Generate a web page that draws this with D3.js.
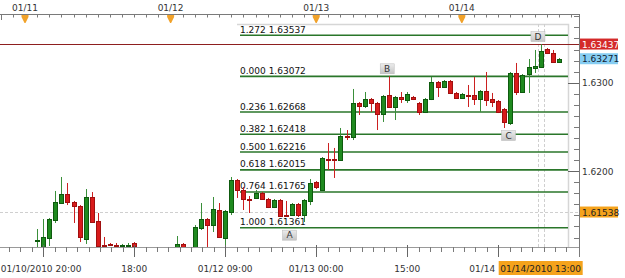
<!DOCTYPE html>
<html><head><meta charset="utf-8">
<script src="https://cdn.jsdelivr.net/npm/d3@7"></script>
<style>
html,body{margin:0;padding:0;background:#fff;}
svg{display:block;font-family:"DejaVu Sans",Verdana,sans-serif;}
</style></head><body>
<svg id="c" width="625" height="278"></svg>
<script>
// ---------- DATA ----------
// hours after 2010-01-11 00:00 (hourly candles)
const candleHours = [2,3,4,5,6,7,8,9,10,11,12,13,14,15,16,17,18,25,26,28,29,30,31,32,33,34,35,36,37,38,39,40,41,42,43,44,45,46,47,48,49,50,51,52,53,54,55,56,57,58,59,60,61,62,63,64,65,66,67,68,69,70,71,72,73,74,75,76,77,78,79,80,81,82,83,84,85,86,87,88];
const opens  = [1.61210,1.61109,1.61244,1.61448,1.61640,1.61742,1.61651,1.61606,1.61233,1.61708,1.61437,1.61165,1.61177,1.61165,1.61154,1.61160,1.61188,1.61143,1.61177,1.61120,1.61357,1.61459,1.61391,1.61561,1.61244,1.61538,1.61900,1.61787,1.61690,1.61697,1.61753,1.61685,1.61595,1.61674,1.61504,1.61504,1.61629,1.61504,1.61663,1.61877,1.61787,1.62143,1.62143,1.62126,1.62392,1.62386,1.62771,1.62737,1.62816,1.62771,1.62646,1.62861,1.62725,1.62838,1.62804,1.62838,1.62771,1.62669,1.62816,1.63008,1.62951,1.63019,1.62884,1.62827,1.62866,1.62861,1.62816,1.62906,1.62816,1.62793,1.62703,1.62544,1.63110,1.62895,1.63098,1.63166,1.63177,1.63381,1.63336,1.63234];
const highs  = [1.61346,1.61459,1.61470,1.61776,1.61934,1.61866,1.61663,1.61617,1.61798,1.61764,1.61527,1.61256,1.61188,1.61188,1.61177,1.61188,1.61199,1.61267,1.61188,1.61391,1.61640,1.61470,1.61708,1.61640,1.61561,1.61934,1.61911,1.61821,1.61719,1.61787,1.61764,1.61697,1.61685,1.61685,1.61663,1.61640,1.61640,1.61685,1.61911,1.61888,1.62160,1.62318,1.62262,1.62488,1.62465,1.62929,1.62782,1.62895,1.62827,1.62782,1.62861,1.63072,1.62850,1.62895,1.62895,1.62850,1.62782,1.62827,1.63064,1.63019,1.63030,1.63030,1.62895,1.62884,1.62974,1.63064,1.62917,1.63121,1.62884,1.62804,1.62714,1.63121,1.63223,1.63098,1.63268,1.63370,1.63437,1.63392,1.63370,1.63279];
const lows   = [1.61109,1.61100,1.61154,1.61414,1.61629,1.61617,1.61414,1.61199,1.61177,1.61414,1.61143,1.61143,1.61154,1.61154,1.61143,1.61154,1.61143,1.61130,1.61130,1.61110,1.61335,1.61130,1.61312,1.61244,1.61135,1.61504,1.61697,1.61561,1.61527,1.61685,1.61674,1.61583,1.61583,1.61482,1.61482,1.61493,1.61482,1.61425,1.61617,1.61798,1.61776,1.62013,1.61923,1.62115,1.62352,1.62352,1.62635,1.62714,1.62669,1.62465,1.62556,1.62714,1.62578,1.62771,1.62771,1.62804,1.62635,1.62657,1.62804,1.62838,1.62940,1.62872,1.62816,1.62816,1.62725,1.62748,1.62669,1.62737,1.62725,1.62657,1.62488,1.62522,1.62861,1.62884,1.62884,1.63110,1.63166,1.63324,1.63223,1.63223];
const closes = [1.61222,1.61256,1.61459,1.61651,1.61742,1.61651,1.61606,1.61256,1.61708,1.61425,1.61154,1.61154,1.61165,1.61160,1.61160,1.61170,1.61154,1.61177,1.61143,1.61369,1.61459,1.61391,1.61572,1.61256,1.61550,1.61900,1.61787,1.61685,1.61682,1.61753,1.61685,1.61595,1.61674,1.61493,1.61498,1.61629,1.61504,1.61674,1.61866,1.61821,1.62149,1.62135,1.62135,1.62397,1.62383,1.62771,1.62737,1.62816,1.62771,1.62646,1.62850,1.62725,1.62838,1.62816,1.62872,1.62816,1.62669,1.62816,1.63008,1.62951,1.63019,1.62884,1.62827,1.62872,1.62858,1.62816,1.62906,1.62804,1.62782,1.62669,1.62556,1.63110,1.62895,1.63087,1.63177,1.63189,1.63358,1.63336,1.63234,1.63271];

const fibRatios = ["1.272","0.000","0.236","0.382","0.500","0.618","0.764","1.000"];
const fibPrices = [1.63537,1.63072,1.62668,1.62418,1.62216,1.62015,1.61765,1.61361];

const pointLabels = ["A","B","C","D"];
const pointHours  = [43.6,59.7,79.7,84.55];
const pointPrices = [1.61361,1.63072,1.62488,1.63437];
const pointSide   = [1,-1,1,-1];

const dayLabels = ["01/11","01/12","01/13","01/14"];
const dayHours  = [0,24,48,72];

const bottomLabels = ["01/10/2010 20:00","18:00","01/12 09:00","01/13 00:00","15:00","01/14"];
const bottomLabelHours = [-4,18,33,48,63,78];
const bottomMajorHours = [3,18,33,48,63,78];

const priceTickValues = [1.6300,1.6200];
const priceTickLabels = ["1.6300","1.6200"];

const askPrice = 1.63437;
const lastPrice = 1.63271;
const crossPrice = 1.61538;
const crossHour = 85;
const crossTimeLabel = "01/14/2010 13:00";

// ---------- SCALES ----------
const base = Date.UTC(2010,0,11,0);
const hd = h => new Date(base + h*3600e3);
const PXH = 6.067;
const x = d3.scaleUtc().domain([hd(-4), hd(91)]).range([25-4*PXH, 25+91*PXH]);
const y = d3.scaleLinear().domain([1.61,1.64]).range([82.7+0.02*8846, 82.7-0.01*8846]);

const svg = d3.select('#c');
const AX = 579, TOP = 14, BOT = 247, PR = 568, PT = 24, PL = 237;

svg.append('defs').append('clipPath').attr('id','plot')
  .append('rect').attr('x',0).attr('y',TOP).attr('width',AX).attr('height',BOT-TOP);
const grad = svg.select('defs').append('linearGradient').attr('id','lbl').attr('x1',0).attr('y1',0).attr('x2',0).attr('y2',1);
grad.append('stop').attr('offset','0%').attr('stop-color','#ececec');
grad.append('stop').attr('offset','100%').attr('stop-color','#c4c4c4');

// panel border
svg.append('path').attr('d',`M${PL},${PT+0.5}H${PR+0.5}V${BOT}`)
  .attr('fill','none').attr('stroke','#d6d6d6').attr('stroke-width',1.5);

// crosshair
svg.append('line').attr('x1',0).attr('x2',AX).attr('y1',Math.round(y(crossPrice))+0.5).attr('y2',Math.round(y(crossPrice))+0.5)
  .attr('stroke','#cfcfcf').attr('stroke-dasharray','3,2');
[-3,3].forEach(dx=>{
  const cx = Math.round(x(hd(crossHour)))+dx+0.5;
  svg.append('line').attr('x1',cx).attr('x2',cx).attr('y1',PT).attr('y2',BOT)
    .attr('stroke','#cfcfcf').attr('stroke-dasharray','3,2');
});

// fib lines
const fg = svg.append('g');
fibPrices.forEach((p,i)=>{
  const yy = y(p);
  fg.append('line').attr('x1',240).attr('x2',PR).attr('y1',yy).attr('y2',yy)
    .attr('stroke','#2a762a').attr('stroke-width',1.6);
  fg.append('text').attr('x',240).attr('y',yy-2.5).attr('font-size',9).attr('fill','#111')
    .text(fibRatios[i]+' '+d3.format('.5f')(p));
});

// ask line
svg.append('line').attr('x1',0).attr('x2',AX).attr('y1',Math.round(y(askPrice))+0.5).attr('y2',Math.round(y(askPrice))+0.5)
  .attr('stroke','#8e1f1f').attr('stroke-width',1);

// candles
const candles = candleHours.map((h,i)=>({t:hd(h),o:opens[i],h:highs[i],l:lows[i],c:closes[i]}));
const cg = svg.append('g').attr('clip-path','url(#plot)');
const up = d=>d.c>=d.o;
cg.selectAll('line.w').data(candles).join('line').attr('class','w')
  .attr('x1',d=>Math.round(x(d.t))+0.5).attr('x2',d=>Math.round(x(d.t))+0.5)
  .attr('y1',d=>y(d.h)).attr('y2',d=>y(d.l))
  .attr('stroke',d=>up(d)?'#3a8f3a':'#cc2020').attr('stroke-width',1);
cg.selectAll('rect.b').data(candles).join('rect').attr('class','b')
  .attr('x',d=>Math.round(x(d.t))-1.5).attr('width',4)
  .attr('y',d=>Math.round(y(Math.max(d.o,d.c)))+0.5)
  .attr('height',d=>Math.max(1,Math.round(y(Math.min(d.o,d.c)))-Math.round(y(Math.max(d.o,d.c)))))
  .attr('fill',d=>up(d)?'#1f8a1f':'#d81b1b')
  .attr('stroke',d=>up(d)?'#0e5a0e':'#a01010').attr('stroke-width',1);

// point labels
const pg = svg.append('g');
pointLabels.forEach((L,i)=>{
  const cx = x(hd(pointHours[i])), cy = y(pointPrices[i]) + pointSide[i]*7.5;
  pg.append('rect').attr('x',cx-7).attr('y',cy-5).attr('width',14).attr('height',10)
    .attr('fill','url(#lbl)').attr('stroke','#b8b8b8').attr('stroke-width',0.5);
  pg.append('text').attr('x',cx).attr('y',cy+3.3).attr('text-anchor','middle')
    .attr('font-size',9).attr('fill','#333').text(L);
});

// top axis
const axc = '#7a7a7a';
svg.append('line').attr('x1',0).attr('x2',AX).attr('y1',TOP+0.5).attr('y2',TOP+0.5).attr('stroke',axc);
const topTicks = x.ticks(d3.utcHour.every(2));
svg.append('g').selectAll('line').data(topTicks).join('line')
  .attr('x1',d=>Math.round(x(d))+0.5).attr('x2',d=>Math.round(x(d))+0.5)
  .attr('y1',TOP).attr('y2',TOP+3.5).attr('stroke',axc);
svg.append('line').attr('x1',1.5).attr('x2',1.5).attr('y1',TOP).attr('y2',TOP+6).attr('stroke',axc);
dayHours.forEach((h,i)=>{
  const cx = x(hd(h));
  svg.append('path').attr('d',`M${cx-3.5},${TOP+1}H${cx+3.5}V${TOP+3}L${cx+0.5},${TOP+9}L${cx-0.5},${TOP+9}L${cx-3.5},${TOP+3}Z`)
    .attr('fill','#f1a22a');
  svg.append('text').attr('x',cx).attr('y',10.5).attr('text-anchor','middle').attr('font-size',9)
    .attr('fill','#333').text(dayLabels[i]);
});

// bottom axis
svg.append('line').attr('x1',0).attr('x2',AX).attr('y1',BOT+0.5).attr('y2',BOT+0.5).attr('stroke','#9a9a9a');
const minorStep = 15/8;
const minorH = d3.range(-4, 92, minorStep).map(v=>v+ (3 - Math.floor((3+4)/minorStep)*minorStep + 4) - 4 - (-4) );
const bt = [];
for (let h = 3 - 8*minorStep; h <= 91; h += minorStep) if (h >= -4) bt.push(h);
svg.append('g').selectAll('line').data(bt).join('line')
  .attr('x1',d=>Math.round(x(hd(d)))+0.5).attr('x2',d=>Math.round(x(hd(d)))+0.5)
  .attr('y1',BOT).attr('y2',BOT+5).attr('stroke',axc);
svg.append('g').selectAll('line').data(bottomMajorHours).join('line')
  .attr('x1',d=>Math.round(x(hd(d)))+0.5).attr('x2',d=>Math.round(x(hd(d)))+0.5)
  .attr('y1',BOT-2).attr('y2',BOT+10).attr('stroke','#666');
bottomLabels.forEach((t,i)=>{
  const first = i===0, last = i===bottomLabels.length-1;
  svg.append('text').attr('x',x(hd(bottomLabelHours[i]))+(last?-3:0)).attr('y',272)
    .attr('text-anchor',first?'start':(last?'end':'middle')).attr('font-size',9).attr('fill','#333').text(t);
});
const ocx = x(hd(crossHour));
svg.append('rect').attr('x',ocx-42).attr('y',261).attr('width',84).attr('height',14).attr('fill','#f5a31c');
svg.append('text').attr('x',ocx).attr('y',272).attr('text-anchor','middle').attr('font-size',9).attr('fill','#222').text(crossTimeLabel);

// right axis
svg.append('line').attr('x1',AX+0.5).attr('x2',AX+0.5).attr('y1',TOP).attr('y2',257).attr('stroke',axc);
const minorP = [];
for (let p = 1.6125; p < 1.6376; p += 0.00125) minorP.push(p);
svg.append('g').selectAll('line').data(minorP).join('line')
  .attr('x1',AX-5).attr('x2',AX).attr('y1',d=>Math.round(y(d))+0.5).attr('y2',d=>Math.round(y(d))+0.5).attr('stroke',axc);
priceTickValues.forEach((p,i)=>{
  const yy = Math.round(y(p))+0.5;
  svg.append('line').attr('x1',PR).attr('x2',AX).attr('y1',yy).attr('y2',yy).attr('stroke','#666');
  svg.append('text').attr('x',582).attr('y',y(p)+3.5).attr('font-size',9).attr('fill','#333').text(priceTickLabels[i]);
});
function tag(p, bg, fg){
  const yy = y(p);
  svg.append('rect').attr('x',580).attr('y',yy-5.5).attr('width',38).attr('height',11).attr('fill',bg);
  svg.append('text').attr('x',582).attr('y',yy+3.5).attr('font-size',9).attr('fill',fg).text(d3.format('.5f')(p));
}
tag(askPrice,'#d42a2a','#fff');
tag(lastPrice,'#86cdf2','#123');
tag(crossPrice,'#f5a31c','#222');
</script>
</body></html>
